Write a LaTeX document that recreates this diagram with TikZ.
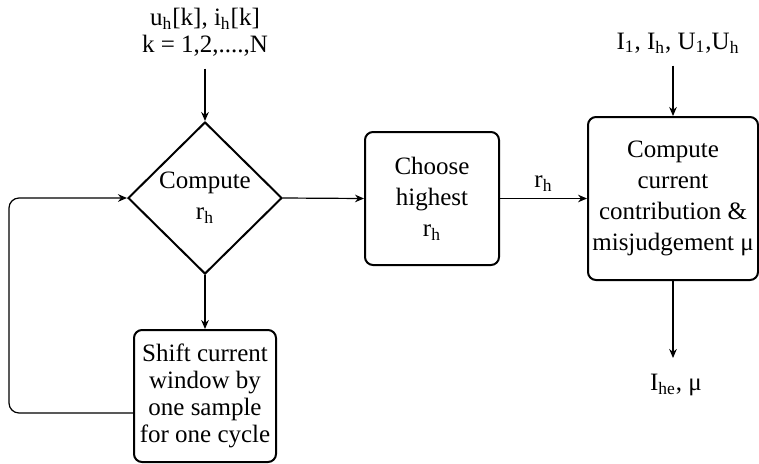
\documentclass[tikz,border=0pt]{standalone}
\usepackage{fontspec}
\setmainfont{Liberation Serif}
\usetikzlibrary{positioning}
\usetikzlibrary{shapes.geometric}
\usetikzlibrary{arrows.meta}

\begin{document}
\begin{tikzpicture}[
    x=0.5pt, y=0.5pt,
    >={Stealth[length=4.5pt,width=3.8pt]},
    font=\fontsize{12.5}{15.5}\selectfont,
    block/.style={
      rectangle,
      rounded corners=4pt,
      draw,
      line width=1pt,
      align=center,
      inner sep=0pt
    },
    decide/.style={
      diamond,
      draw,
      line width=1pt,
      align=center,
      inner sep=0pt,
      minimum width=77pt,
      minimum height=76pt
    },
    iolabel/.style={
      align=center,
      inner sep=6pt
    },
    ]

    \useasboundingbox (0,0) rectangle (759,463);

    \node[decide] (rh) at (205,265) {Compute\\r\textsubscript{h}};
    \node[block, minimum width=67pt, minimum height=66.5pt] (choose) at (432,264.5)
      {Choose\\highest\\r\textsubscript{h}};
    \node[block, minimum width=85pt, minimum height=81.5pt] (contrib) at (673,264.5)
      {Compute\\current\\contribution \&\\misjudgement μ};
    \node[block, minimum width=71pt, minimum height=66pt,
      font=\fontsize{12.5}{13.5}\selectfont] (shift) at (205,67)
      {Shift current\\window by\\one sample\\for one cycle};

    \node[iolabel, font=\fontsize{12.5}{13.5}\selectfont] (samples) at (205,431)
      {u\textsubscript{h}[k], i\textsubscript{h}[k]\\k = 1,2,....,N};
    \node[iolabel] (inputs) at (678,420)
      {I\textsubscript{1}, I\textsubscript{h}, U\textsubscript{1},U\textsubscript{h}};
    \node[iolabel] (outputs) at (676,78) {I\textsubscript{he}, μ};
    \coordinate (outtip) at (673,105);

    \path[->, semithick]
    (samples.south) edge (rh.north)
    (inputs.south -| contrib.north) edge (contrib.north)
    (rh.south)      edge (shift.north)
    (rh.east)       edge (choose.west)
    (choose.east)   edge node[above] {r\textsubscript{h}} (contrib.west)
    (contrib.south) edge (outtip)
    ;

    \draw[->, semithick, rounded corners=5pt]
      ([yshift=-8.5pt]shift.west) -- ++(-124,0) |- (rh.west);
  \end{tikzpicture}
\end{document}
